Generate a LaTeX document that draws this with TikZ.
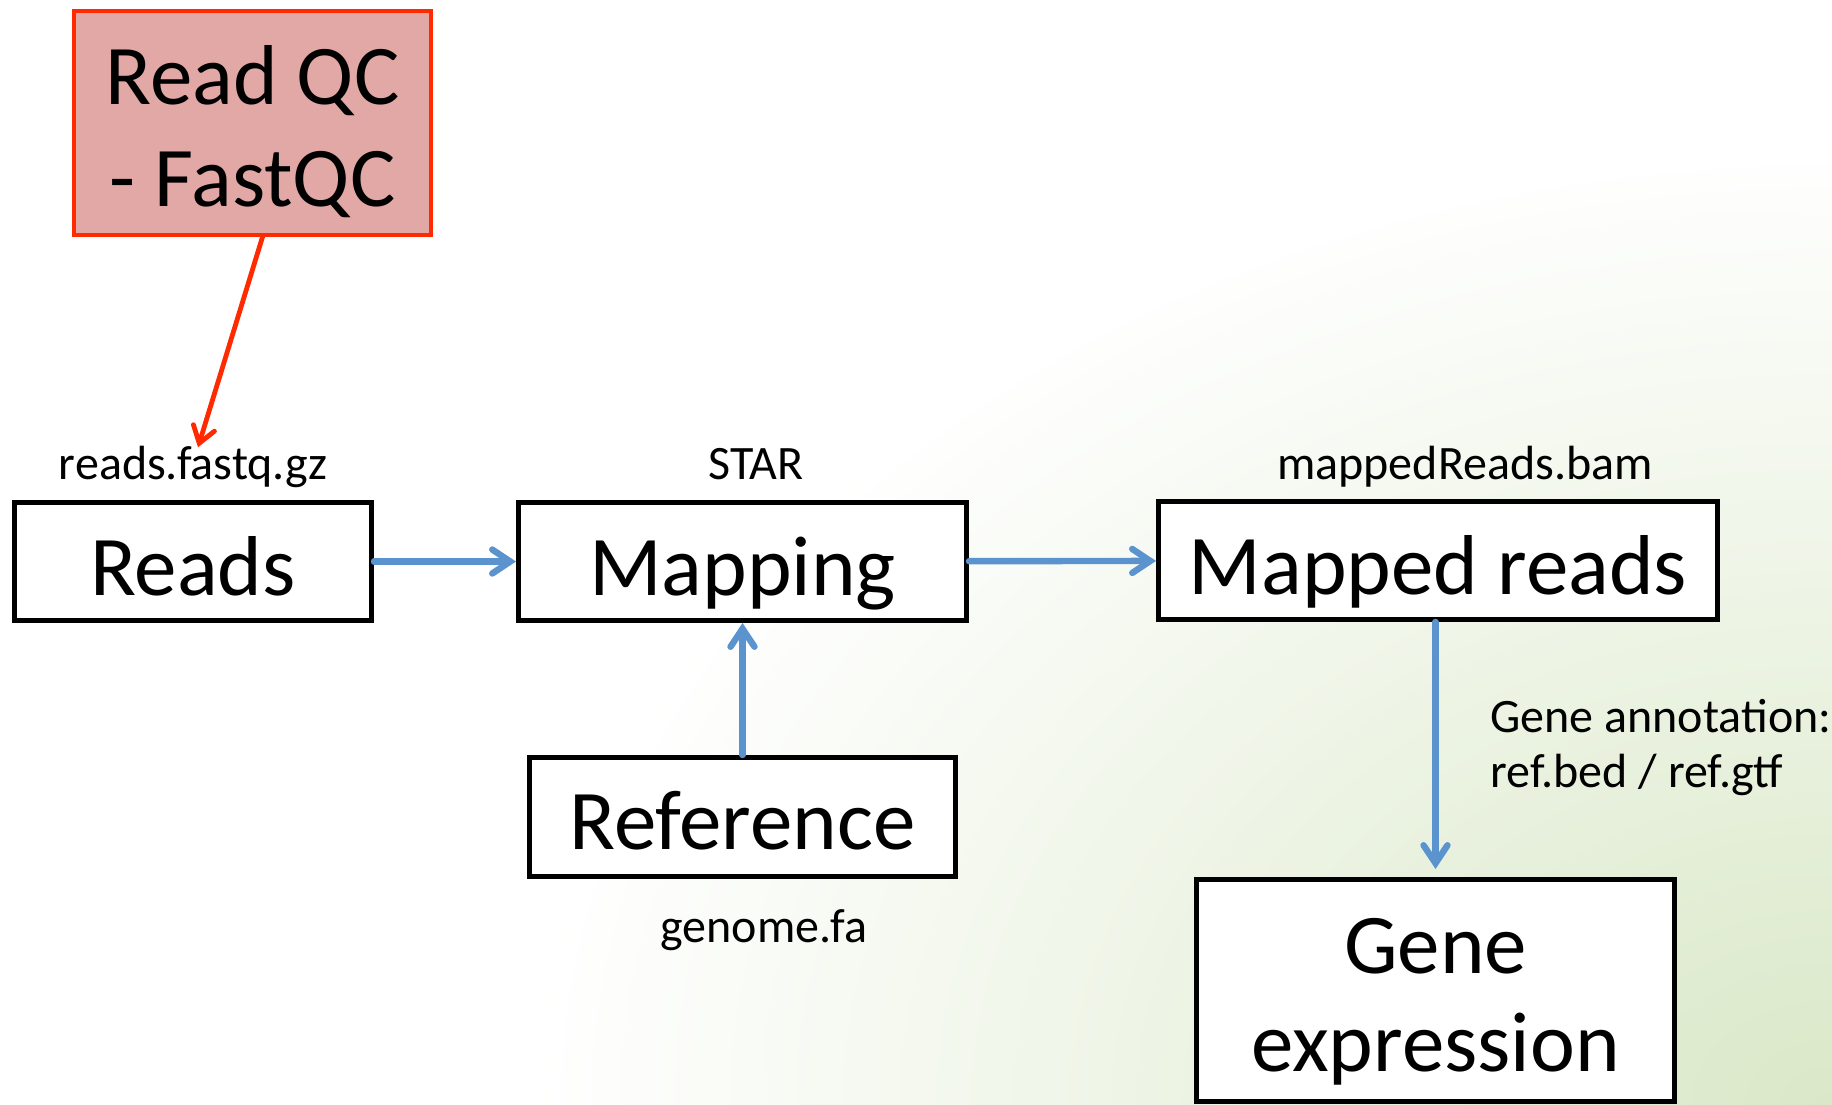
\documentclass[tikz,border=0pt]{standalone}
\usepackage{fontspec}
\setmainfont{Carlito}
\usetikzlibrary{arrows.meta}
\definecolor{arrowblue}{HTML}{5B93CF}
\definecolor{qcred}{HTML}{FF2A00}
\definecolor{qcfill}{HTML}{E2A8A6}
\definecolor{bggreen}{HTML}{DAE8C8}
\pgfdeclareradialshading{bgshade}{\pgfpoint{0bp}{0bp}}{color(0bp)=(bggreen); color(25bp)=(white); color(50bp)=(white)}
\begin{document}
\begin{tikzpicture}[x=0.5pt,y=-0.5pt,
  box/.style={draw=black, line width=2.5pt, fill=white, inner sep=0pt,
    font=\fontsize{42.5}{50}\selectfont, text height=34pt, text depth=0.5pt},
  lbl/.style={inner sep=0pt, font=\fontsize{24}{27.5}\selectfont},
  flow/.style={draw=arrowblue, line width=3.2pt, line cap=round,
    -{Straight Barb[length=9pt,width=12pt,line cap=round]}},
  qcarrow/.style={draw=qcred, line width=2.4pt, line cap=round,
    -{Straight Barb[length=8pt,width=11pt,line cap=round]}},
  ]
\path[use as bounding box] (0,0) rectangle (1832,1104);
\begin{scope}
  \clip (0,0) rectangle (1832,1104);
  \fill[white] (0,0) rectangle (1832,1104);
  \shade[shading=bgshade] (1832,1104) ellipse (650pt and 480pt);
\end{scope}

% boxes
\node[box, draw=qcred, line width=2pt, fill=qcfill, minimum width=178.5pt,
  minimum height=112pt, text height=83pt, text depth=0pt,
  font=\fontsize{42.5}{51}\selectfont] (qc) at (252.5,123)
  {\begin{tabular}[b]{@{}c@{}}Read QC\\- FastQC\end{tabular}};
\node[box, minimum width=178.5pt, minimum height=59pt] (reads) at (193,561.5) {Reads};
\node[box, minimum width=224pt, minimum height=59pt] (map) at (742.5,561.5) {Mapping};
\node[box, minimum width=279.5pt, minimum height=59pt] (mapped) at (1438,560.5) {Mapped reads};
\node[box, minimum width=213pt, minimum height=59.5pt, text height=33pt, text depth=0.5pt] (ref) at (742.5,817) {Reference};
\node[box, minimum width=239pt, minimum height=111pt, text height=81pt, text depth=0pt,
  font=\fontsize{42.5}{49}\selectfont] (gene) at (1435.5,990.5)
  {\begin{tabular}[b]{@{}c@{}}Gene\\expression\end{tabular}};

% labels
\node[lbl, anchor=base] (readslbl) at (193,479) {reads.fastq.gz};
\node[lbl, anchor=base] (starlbl) at (756,479) {STAR};
\node[lbl, anchor=base] (bamlbl) at (1465,479) {mappedReads.bam};
\node[lbl, anchor=base] (genomelbl) at (764,942) {genome.fa};
\node[lbl, anchor=base west] (annot) at (1490,732)
  {\begin{tabular}[t]{@{}l@{}}Gene annotation:\\ref.bed / ref.gtf\end{tabular}};

% connectors
\draw[flow] (reads) -- (map);
\draw[flow] (map) -- (mapped);
\draw[flow] (ref) -- (map);
\draw[flow, shorten >=4pt] (gene.north |- mapped.south) -- (gene.north);
\draw[qcarrow] ([xshift=5pt]qc.south) -- ([xshift=2.5pt,yshift=-1pt]readslbl.north);
\end{tikzpicture}
\end{document}
